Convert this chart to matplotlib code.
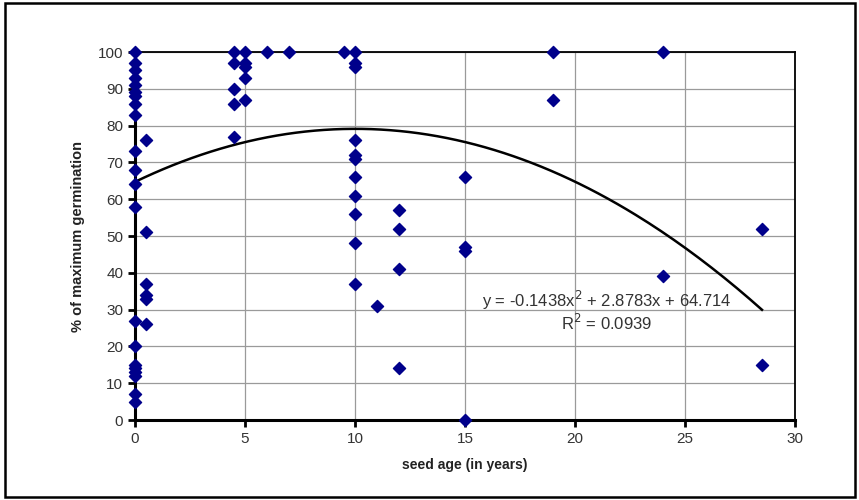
import matplotlib
matplotlib.use("Agg")
import matplotlib.pyplot as plt
import numpy as np
from matplotlib.patches import Rectangle

plt.rcParams['font.family'] = ['Liberation Sans', 'DejaVu Sans']

# seed age (years) and % of maximum germination
age = ([0] * 21 + [0.5] * 6 + [4.5] * 5 + [5] * 5 + [6, 7, 9.5]
       + [10] * 11 + [11] + [12] * 4 + [15] * 4 + [19] * 2 + [24] * 2 + [28.5] * 2)
germ = ([100, 97, 95, 93, 91, 89, 88, 86, 83, 73, 68, 64, 58, 27, 20, 15, 14, 13, 12, 7, 5]
        + [76, 51, 37, 34, 33, 26]
        + [100, 97, 90, 86, 77]
        + [100, 97, 96, 93, 87]
        + [100, 100, 100]
        + [100, 97, 96, 76, 72, 71, 66, 61, 56, 48, 37]
        + [31]
        + [57, 52, 41, 14]
        + [66, 47, 46, 0]
        + [100, 87]
        + [100, 39]
        + [52, 15])

# trendline coefficients as printed on the chart
coef = [-0.1438, 2.8783, 64.714]
eq_text = "y = -0.1438x$^{2}$ + 2.8783x + 64.714"
r2_text = "R$^{2}$ = 0.0939"

fig = plt.figure(figsize=(8.59, 5.0), dpi=100)
fig.patches.append(Rectangle((0.006, 0.006), 0.989, 0.988, transform=fig.transFigure,
                             fill=False, edgecolor='black', linewidth=1.8))

ax = fig.add_axes([0.1572, 0.16, 0.7683, 0.736])
ax.set_xlim(0, 30)
ax.set_ylim(0, 100)
ax.set_xticks(np.arange(0, 31, 5))
ax.set_yticks(np.arange(0, 101, 10))
ax.grid(True, color='#9a9a9a', linewidth=0.9)
ax.set_axisbelow(True)

for side in ['left', 'bottom']:
    ax.spines[side].set_linewidth(2.2)
for side in ['top', 'right']:
    ax.spines[side].set_linewidth(1.3)

ax.tick_params(axis='both', direction='out', length=5, width=2, colors='black',
               labelcolor='#333333', labelsize=11)

ax.scatter(age, germ, marker='D', s=38, color='#00008b', zorder=3, clip_on=False)

xs = np.linspace(0, max(age), 200)
ax.plot(xs, np.polyval(coef, xs), color='black', linewidth=1.8, zorder=2)

ax.text(21.45, 32.6, eq_text, ha='center', va='center', fontsize=12, color='#333333')
ax.text(21.45, 26.4, r2_text, ha='center', va='center', fontsize=12, color='#333333')

ax.set_xlabel("seed age (in years)", fontsize=10, fontweight='bold', color='#222222', labelpad=9)
ax.set_ylabel("% of maximum germination", fontsize=10.5, fontweight='bold', color='#222222', labelpad=9)

fig.savefig("out.png", dpi=100)
